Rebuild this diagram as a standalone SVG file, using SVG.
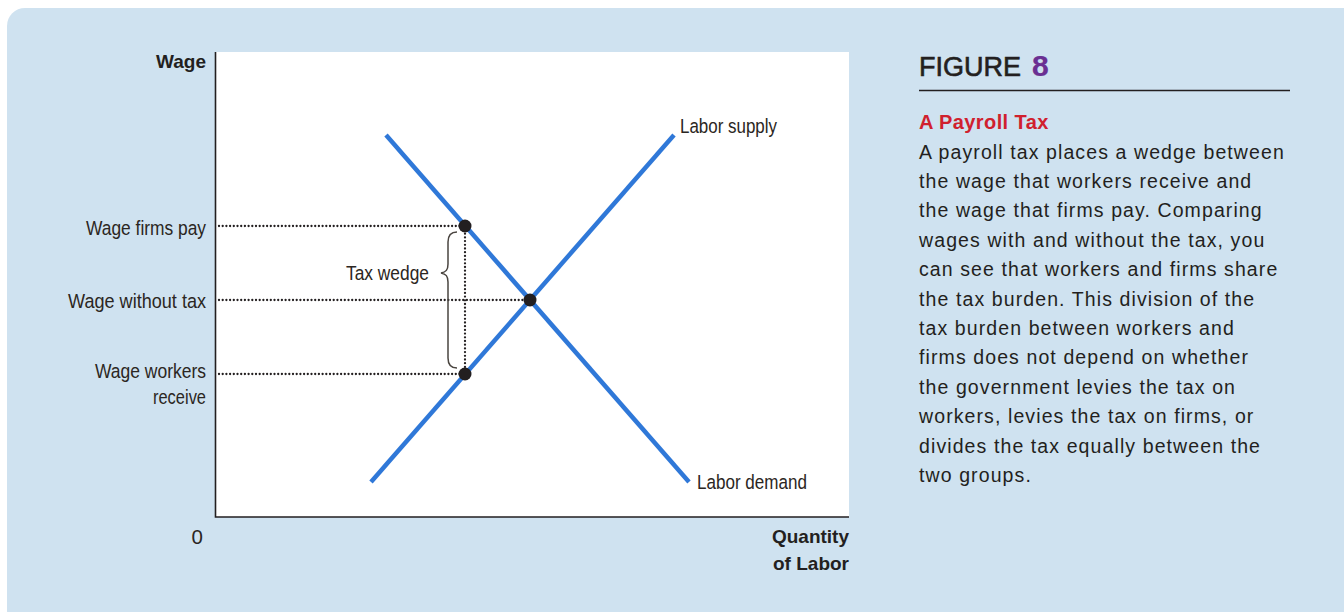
<svg xmlns="http://www.w3.org/2000/svg" width="1344" height="612" viewBox="0 0 1344 612">
<defs>
<style>
.lbl{font-family:"Liberation Sans","Noto Sans",sans-serif;font-size:20.5px;fill:#2b2622}
.bold{font-family:"Liberation Sans","Noto Sans",sans-serif;font-weight:bold;font-size:19px;fill:#231f20}
.curve{stroke:#2f78d8;stroke-width:4.5;fill:none}
.dot{stroke:#231f20;stroke-width:2.3;stroke-dasharray:0 3.7;stroke-linecap:round;fill:none}
.pt{fill:#231f20}
.body{font-family:"Liberation Sans","Noto Sans",sans-serif;font-size:19.5px;fill:#231f20;letter-spacing:1.1px}
</style>
</defs>
<rect x="7" y="8" width="1360" height="620" rx="18" fill="#cfe2f0"/>
<g id="plot">
<rect x="215" y="52" width="634" height="465" fill="#ffffff"/>
<path d="M215.5 52 V517 H849" stroke="#231f20" stroke-width="1.6" fill="none"/>
</g>
<g id="axis-labels">
<text class="bold" x="206" y="68" text-anchor="end">Wage</text>
<text class="lbl" x="203" y="544" text-anchor="end">0</text>
<text class="bold" x="849" y="543" text-anchor="end">Quantity</text>
<text class="bold" x="849" y="570" text-anchor="end">of Labor</text>
</g>
<g id="connectors">
<path class="dot" d="M219 226 H462"/>
<path class="dot" d="M219 300 H526"/>
<path class="dot" d="M219 374 H462"/>
<path class="dot" d="M465 230 V371"/>
<path d="M457 232 C450 232 448 236 448 242 V264 C448 270 446 272 441 273 C446 274 448 276 448 282 V358 C448 364 450 368 457 368" stroke="#4a4540" stroke-width="1.5" fill="none"/>
</g>
<g id="labor-supply">
<line class="curve" x1="371" y1="482" x2="674" y2="135"/>
<text class="lbl" x="680" y="133" textLength="97" lengthAdjust="spacingAndGlyphs">Labor supply</text>
</g>
<g id="labor-demand">
<line class="curve" x1="386" y1="135" x2="689" y2="482"/>
<text class="lbl" x="697" y="489" textLength="110" lengthAdjust="spacingAndGlyphs">Labor demand</text>
</g>
<g id="points">
<circle class="pt" cx="465" cy="226" r="6.5"/>
<circle class="pt" cx="530" cy="300" r="6.5"/>
<circle class="pt" cx="465" cy="374" r="6.5"/>
</g>
<g id="wage-labels">
<text class="lbl" x="86" y="235" textLength="120" lengthAdjust="spacingAndGlyphs">Wage firms pay</text>
<text class="lbl" x="68" y="308" textLength="138" lengthAdjust="spacingAndGlyphs">Wage without tax</text>
<text class="lbl" x="95" y="378" textLength="111" lengthAdjust="spacingAndGlyphs">Wage workers</text>
<text class="lbl" x="153" y="404" textLength="53" lengthAdjust="spacingAndGlyphs">receive</text>
<text class="lbl" x="346" y="280" textLength="83" lengthAdjust="spacingAndGlyphs">Tax wedge</text>
</g>
<g id="caption">
<text x="919" y="76" font-family="Liberation Sans, Noto Sans, sans-serif" font-size="27" fill="#231f20" stroke="#231f20" stroke-width="0.6">FIGURE<tspan dx="11" fill="#6a2f92" stroke="#6a2f92" font-weight="bold" font-size="30" stroke-width="0.2">8</tspan></text>
<line x1="919" y1="90.5" x2="1290" y2="90.5" stroke="#231f20" stroke-width="1.5"/>
<text x="919" y="129" font-family="Liberation Sans, Noto Sans, sans-serif" font-size="20" font-weight="bold" fill="#d0202e" letter-spacing="0.4">A Payroll Tax</text>
<text class="body">
<tspan x="919" y="158.5">A payroll tax places a wedge between</tspan>
<tspan x="919" y="187.9">the wage that workers receive and</tspan>
<tspan x="919" y="217.3">the wage that firms pay. Comparing</tspan>
<tspan x="919" y="246.7">wages with and without the tax, you</tspan>
<tspan x="919" y="276.1">can see that workers and firms share</tspan>
<tspan x="919" y="305.5">the tax burden. This division of the</tspan>
<tspan x="919" y="334.9">tax burden between workers and</tspan>
<tspan x="919" y="364.3">firms does not depend on whether</tspan>
<tspan x="919" y="393.7">the government levies the tax on</tspan>
<tspan x="919" y="423.1">workers, levies the tax on firms, or</tspan>
<tspan x="919" y="452.5">divides the tax equally between the</tspan>
<tspan x="919" y="481.9">two groups.</tspan>
</text>
</g>
</svg>
